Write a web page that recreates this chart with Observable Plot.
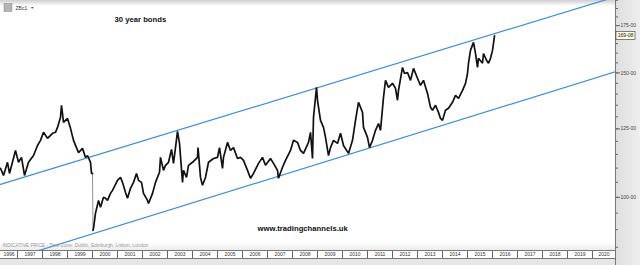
<!DOCTYPE html>
<html><head><meta charset="utf-8">
<script src="https://cdn.jsdelivr.net/npm/d3@7"></script>
<script src="https://cdn.jsdelivr.net/npm/@observablehq/plot@0.6"></script>
<style>
html,body{margin:0;padding:0;background:#fff;overflow:hidden}
#chart{position:relative;width:640px;height:265px}
svg{display:block}
</style></head><body><div id="chart"></div>
<script>
// ---- data ----
const years = [1996.32,1996.44,1996.60,1996.68,1996.92,1997.04,1997.16,1997.28,1997.44,1997.64,1997.80,1997.92,1998.04,1998.20,1998.40,1998.52,1998.60,1998.72,1998.76,1998.84,1999.00,1999.12,1999.24,1999.44,1999.60,1999.72,1999.80,1999.92,1999.96,2000.00,2000.02,2000.04,2000.12,2000.24,2000.32,2000.44,2000.52,2000.60,2000.72,2000.80,2001.00,2001.12,2001.20,2001.32,2001.40,2001.52,2001.64,2001.76,2001.84,2001.96,2002.04,2002.20,2002.24,2002.40,2002.52,2002.68,2002.72,2002.84,2002.92,2003.04,2003.16,2003.24,2003.32,2003.40,2003.48,2003.60,2003.64,2003.76,2003.84,2004.00,2004.20,2004.22,2004.32,2004.40,2004.52,2004.64,2004.84,2005.00,2005.08,2005.20,2005.24,2005.40,2005.52,2005.64,2005.80,2005.92,2006.04,2006.20,2006.32,2006.44,2006.64,2006.80,2006.92,2007.12,2007.24,2007.40,2007.44,2007.60,2007.72,2007.92,2008.04,2008.20,2008.32,2008.44,2008.64,2008.72,2008.80,2008.84,2008.96,2009.00,2009.12,2009.24,2009.32,2009.44,2009.52,2009.64,2009.80,2009.92,2010.04,2010.24,2010.40,2010.52,2010.64,2010.80,2010.84,2011.00,2011.08,2011.20,2011.32,2011.44,2011.52,2011.64,2011.72,2011.84,2012.00,2012.12,2012.20,2012.24,2012.40,2012.48,2012.60,2012.72,2012.84,2013.00,2013.12,2013.24,2013.40,2013.52,2013.60,2013.72,2013.84,2013.92,2014.00,2014.12,2014.24,2014.40,2014.52,2014.64,2014.80,2014.92,2015.00,2015.04,2015.12,2015.24,2015.32,2015.40,2015.44,2015.60,2015.64,2015.76,2015.84,2015.92,2016.00,2016.04,2016.08];
const prices = [109.9,107.4,112.1,108.1,116.5,112.1,113.9,107.4,112.1,114.6,118.4,120.4,123.6,121.2,123.2,123.6,125.6,129.8,135.0,127.7,129.3,125.2,120.4,115.7,117.3,113.9,114.6,112.1,108.1,108.1,89.8,90.4,95.0,99.0,96.8,100.0,99.7,99.0,101.3,102.3,105.7,106.7,105.0,101.6,99.7,103.0,105.0,108.1,105.7,105.0,101.3,99.0,98.0,101.3,105.0,108.5,113.9,109.2,111.0,112.1,116.9,111.7,117.6,124.0,119.2,105.0,109.2,106.7,111.0,112.1,113.9,117.6,106.7,104.0,106.7,112.1,113.5,113.9,117.6,109.9,113.9,119.6,116.5,117.6,113.5,113.9,112.8,109.2,106.4,108.1,111.7,113.9,111.0,113.5,111.7,109.2,106.4,110.3,112.8,116.5,120.4,119.6,116.5,115.4,119.6,123.6,113.5,129.8,143.1,137.2,128.5,125.6,121.6,114.6,117.6,120.4,119.2,123.2,118.4,115.4,120.4,128.5,136.3,131.9,125.6,121.6,117.6,120.4,124.4,127.2,124.4,138.5,146.4,143.1,145.0,142.6,137.2,141.7,152.7,149.7,150.2,146.4,152.2,147.4,144.0,146.4,140.3,134.1,132.8,135.0,131.9,129.3,128.5,132.8,133.7,136.3,139.4,138.1,141.7,145.0,149.7,154.8,161.4,165.7,159.8,152.7,157.3,154.8,159.8,156.3,154.8,157.3,161.4,165.2,169.25];
const rollIndex = 30; // first point after the contract roll gap in 2000
const channelYears = [1996.32, 2020.92];
const upperChannel = [104.3, 192.2];
const lowerChannel = [80.9, 150.6];
const xDomain = [1996.32, 2020.92];
const yDomain = [84.1, 189.9];
const yearBounds = d3.range(1997, 2021);
const yearLabels = d3.range(1996, 2021);
const majorTicks = [100, 125, 150, 175];
const minorTicks = d3.range(85, 195, 5);
const lastLabel = "169-08";
const symbolName = "ZBc1";
const title = "30 year bonds";
const website = "www.tradingchannels.uk";
const footnote = "INDICATIVE PRICE - Time Zone: Dublin, Edinburgh, Lisbon, London";

if (years.length !== prices.length) throw new Error("length mismatch " + years.length + " " + prices.length);

const series = years.map((t, i) => ({t, p: prices[i], seg: i < rollIndex ? 0 : 1}));
const gap = series.slice(rollIndex - 1, rollIndex + 1);
const upper = channelYears.map((t, i) => ({t, p: upperChannel[i]}));
const lower = channelYears.map((t, i) => ({t, p: lowerChannel[i]}));
const labelPos = yearLabels.map(y => ({y, x: (Math.max(y, xDomain[0]) + Math.min(y + 1, xDomain[1])) / 2}));

const font = "'Liberation Sans', Arial, sans-serif";
const blue = "#3d8fdc";

const chart = Plot.plot({
  width: 640, height: 265,
  marginLeft: 0, marginRight: 25, marginTop: 0, marginBottom: 15,
  style: {fontFamily: font, background: "transparent", overflow: "visible"},
  x: {domain: xDomain},
  y: {type: "log", domain: yDomain},
  marks: [
    Plot.line(upper, {x: "t", y: "p", stroke: blue, strokeWidth: 1.2, clip: true}),
    Plot.line(lower, {x: "t", y: "p", stroke: blue, strokeWidth: 1.2, clip: true}),
    Plot.line(gap, {x: "t", y: "p", stroke: "#777", strokeWidth: 0.8, clip: true}),
    Plot.line(series, {x: "t", y: "p", z: "seg", stroke: "#111", strokeWidth: 1.7, strokeLinejoin: "miter", clip: true}),
    Plot.axisY(minorTicks, {anchor: "right", tickSize: 2, tickFormat: () => "", stroke: "#666", label: null}),
    Plot.axisY(majorTicks, {anchor: "right", tickSize: 4, tickPadding: 1, tickFormat: d => d + "-00", fontSize: 5, fill: "#444", stroke: "#666", label: null}),
    Plot.axisX(yearBounds, {anchor: "bottom", tickSize: 8, tickFormat: () => "", stroke: "#666", label: null}),
    Plot.axisX(labelPos.map(d => d.x), {anchor: "bottom", tickSize: 0, tickPadding: 2.3, tickFormat: (d, i) => String(yearLabels[i]), fontSize: 5, fill: "#333", label: null}),
    Plot.text([title], {frameAnchor: "top-left", dx: 114, dy: 16, text: d => d, fontSize: 7.7, fontWeight: "bold", fill: "#111", textAnchor: "start"}),
    Plot.text([website], {frameAnchor: "top-left", dx: 257, dy: 225, text: d => d, fontSize: 7.7, fontWeight: "bold", fill: "#111", textAnchor: "start"}),
    Plot.text([footnote], {frameAnchor: "top-left", dx: 2, dy: 243.5, text: d => d, fontSize: 4.8, fill: "#999", textAnchor: "start"}),
    Plot.text([symbolName], {frameAnchor: "top-left", dx: 15, dy: 5.5, text: d => d, fontSize: 5, fill: "#333", textAnchor: "start"}),
    Plot.text(["▼"], {frameAnchor: "top-left", dx: 30, dy: 6, text: d => d, fontSize: 3.5, fill: "#333", textAnchor: "start"})
  ]
});

document.getElementById("chart").appendChild(chart);

// ---- decoration derived from the scales ----
const svg = d3.select(chart);
const sx = chart.scale("x"), sy = chart.scale("y");
const xL = sx.apply(xDomain[0]), xR = sx.apply(xDomain[1]);
const yB = sy.apply(yDomain[0]);
const defs = svg.insert("defs", ":first-child");
const g1 = defs.append("linearGradient").attr("id", "panel").attr("x1", 0).attr("x2", 1).attr("y1", 0).attr("y2", 0);
g1.append("stop").attr("offset", 0).attr("stop-color", "#dedede");
g1.append("stop").attr("offset", 1).attr("stop-color", "#eeeeee");
const g2 = defs.append("linearGradient").attr("id", "topbar").attr("x1", 0).attr("x2", 0).attr("y1", 0).attr("y2", 1);
g2.append("stop").attr("offset", 0).attr("stop-color", "#cfcfcf");
g2.append("stop").attr("offset", 1).attr("stop-color", "#ffffff");
const g3 = defs.append("linearGradient").attr("id", "foot").attr("x1", 0).attr("x2", 0).attr("y1", 0).attr("y2", 1);
g3.append("stop").attr("offset", 0).attr("stop-color", "#ffffff");
g3.append("stop").attr("offset", 1).attr("stop-color", "#ececec");

const bg = svg.insert("g", "defs + *");
bg.append("rect").attr("x", xR).attr("y", 0).attr("width", 640 - xR).attr("height", 265).attr("fill", "url(#panel)");
bg.append("rect").attr("x", 0).attr("y", 0).attr("width", xR).attr("height", 6).attr("fill", "url(#topbar)");
bg.append("rect").attr("x", 0).attr("y", yB - 8).attr("width", xR).attr("height", 8).attr("fill", "url(#foot)");
bg.append("rect").attr("x", 0).attr("y", yB + 8).attr("width", xR).attr("height", 265 - yB - 8).attr("fill", "#e6e6e6");
bg.append("rect").attr("x", 4).attr("y", 3.5).attr("width", 8).attr("height", 8).attr("fill", "#b5b5b5").attr("stroke", "#888").attr("stroke-width", 0.5);

const fg = svg.append("g");
fg.append("line").attr("x1", xR + 0.5).attr("x2", xR + 0.5).attr("y1", 0).attr("y2", 265).attr("stroke", "#777").attr("stroke-width", 1);
fg.append("line").attr("x1", xL).attr("x2", xR).attr("y1", yB + 0.5).attr("y2", yB + 0.5).attr("stroke", "#777");
fg.append("line").attr("x1", xL).attr("x2", xR).attr("y1", yB + 8.5).attr("y2", yB + 8.5).attr("stroke", "#777");

const ly = sy.apply(prices[prices.length - 1]);
fg.append("rect").attr("x", xR + 1).attr("y", ly - 4).attr("width", 19).attr("height", 8).attr("fill", "#ffffe1").attr("stroke", "#333").attr("stroke-width", 0.6);
fg.append("text").attr("x", xR + 10.5).attr("y", ly).attr("dy", "0.35em").attr("text-anchor", "middle").attr("font-size", 5).attr("font-family", font).attr("fill", "#111").text(lastLabel);
</script></body></html>
